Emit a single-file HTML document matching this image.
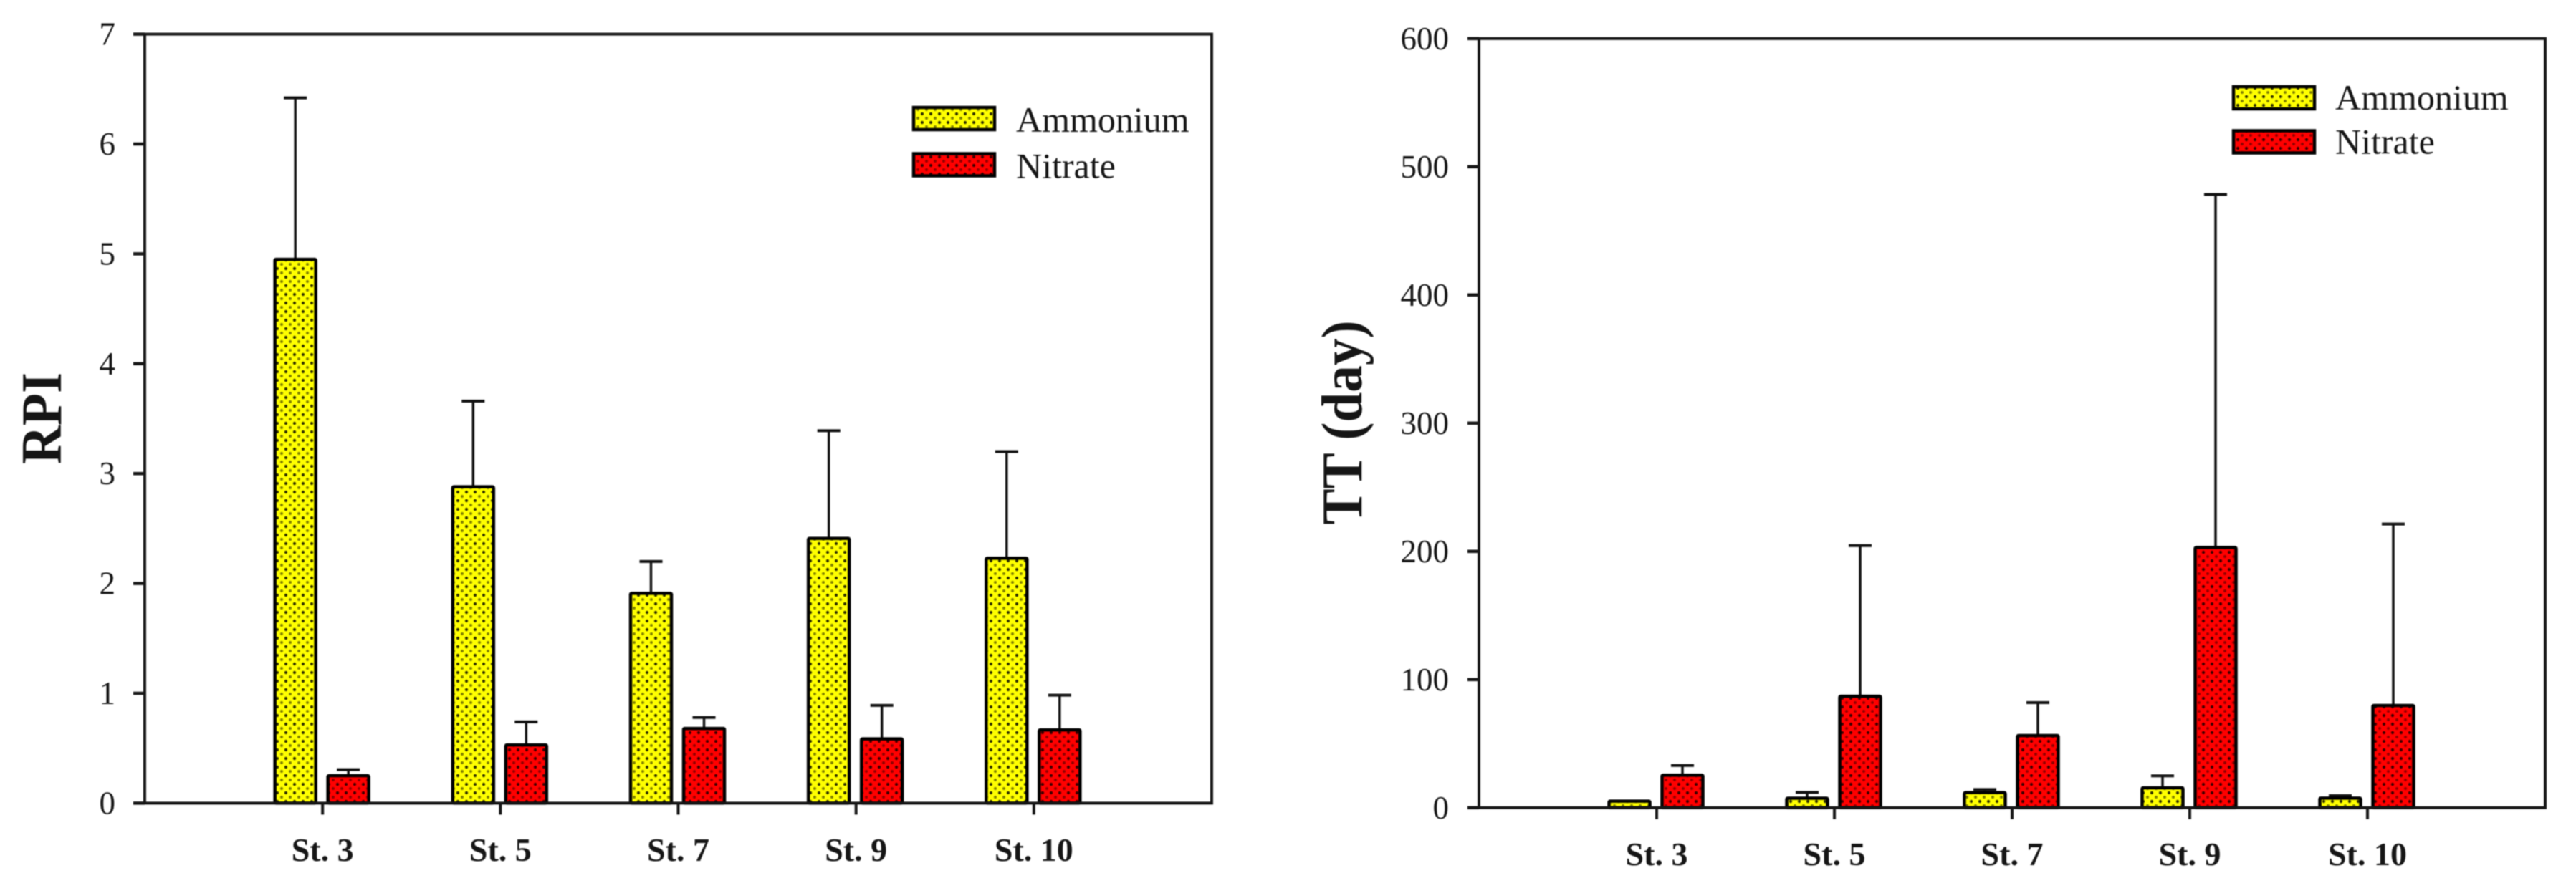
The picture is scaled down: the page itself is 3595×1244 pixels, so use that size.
<!DOCTYPE html>
<html lang="en">
<head>
<meta charset="utf-8">
<title>RPI and TT by station</title>
<style>
html,body{margin:0;padding:0;background:#fff;width:3595px;height:1244px;overflow:hidden}
svg{display:block;filter:blur(0.8px)}
text{font-family:"Liberation Serif",serif;fill:#151515}
</style>
</head>
<body>
<svg id="figure" xmlns="http://www.w3.org/2000/svg" width="3595" height="1244" viewBox="0 0 3595 1244">
  <defs>
    <pattern id="dots-yellow" width="12" height="12" patternUnits="userSpaceOnUse">
      <rect width="12" height="12" fill="#ffff00"/>
      <circle cx="3" cy="3" r="2.1" fill="#2c2c00"/>
      <circle cx="9" cy="9" r="2" fill="#7f7f00"/>
    </pattern>
    <pattern id="dots-red" width="12" height="12" patternUnits="userSpaceOnUse">
      <rect width="12" height="12" fill="#ff0000"/>
      <circle cx="3" cy="3" r="2.1" fill="#3a0000"/>
      <circle cx="9" cy="9" r="2" fill="#900000"/>
    </pattern>
  </defs>
  <rect width="3595" height="1244" fill="#ffffff"/>
</svg>
<script>
const categories = ["St. 3", "St. 5", "St. 7", "St. 9", "St. 10"];
const seriesNames = ["Ammonium", "Nitrate"];

const rpiTicks = [0, 1, 2, 3, 4, 5, 6, 7];
const rpiAmmonium = [4.95, 2.88, 1.91, 2.41, 2.23];
const rpiAmmoniumErr = [1.47, 0.78, 0.29, 0.98, 0.97];
const rpiNitrate = [0.25, 0.53, 0.68, 0.585, 0.667];
const rpiNitrateErr = [0.055, 0.21, 0.10, 0.305, 0.316];

const ttTicks = [0, 100, 200, 300, 400, 500, 600];
const ttAmmonium = [5.1, 7.4, 11.8, 15.5, 7.5];
const ttAmmoniumErr = [0, 4.6, 2.4, 9.4, 1.9];
const ttNitrate = [25.4, 87, 56.3, 203, 79.8];
const ttNitrateErr = [7.6, 117.5, 25.7, 275.4, 141.5];

const NS = "http://www.w3.org/2000/svg";
const svg = document.getElementById("figure");

function make(parent, tag, props, text) {
  const el = document.createElementNS(NS, tag);
  for (const k in props) el.setAttribute(k, props[k]);
  if (text !== undefined) el.textContent = text;
  parent.appendChild(el);
  return el;
}

function drawChart(cfg) {
  const g = make(svg, "g", {});
  
  

  const yMax = cfg.ticks[cfg.ticks.length - 1];
  const yScale = v => cfg.bottom - (v / yMax) * (cfg.bottom - cfg.top);
  const xScale = i => cfg.left + ((i + 1) / (categories.length + 1)) * (cfg.right - cfg.left);

  // bars and error bars
  const groups = [
    {key: "ammonium", vals: cfg.ammonium, errs: cfg.ammoniumErr, off: -38, fill: "url(#dots-yellow)"},
    {key: "nitrate", vals: cfg.nitrate, errs: cfg.nitrateErr, off: 36, fill: "url(#dots-red)"}
  ];
  groups.forEach(s => {
    s.vals.forEach((v, i) => {
      const cx = xScale(i) + s.off;
      const yTop = yScale(v);
      const yErr = yScale(v + s.errs[i]);
      if (s.errs[i] > 0) {
        const stem = make(g, "line", {x1: cx, x2: cx, y1: yTop, y2: yErr, stroke: "#111", "stroke-width": 3.5});
        
        
        const cap = make(g, "line", {x1: cx - 16, x2: cx + 16, y1: yErr, y2: yErr, stroke: "#111", "stroke-width": 4});
        
        
      }
      const bar = make(g, "rect", {x: cx - 28.5, y: yTop, width: 57, height: yScale(0) - yTop, rx: 1.5, fill: s.fill, stroke: "#000", "stroke-width": 4.5, "stroke-linejoin": "round"});
      
      
    });
  });

  // plot frame
  const frame = make(g, "rect", {x: cfg.left, y: cfg.top, width: cfg.right - cfg.left, height: cfg.bottom - cfg.top, fill: "none", stroke: "#161616", "stroke-width": 4});
  
  

  // y ticks
  cfg.ticks.forEach(t => {
    const y = yScale(t);
    const tick = make(g, "line", {x1: cfg.left - 16, x2: cfg.left, y1: y, y2: y, stroke: "#161616", "stroke-width": 4.5});
    
    
    const lab = make(g, "text", {x: cfg.yLabelX, y: y + 15, "text-anchor": "end", "font-size": 45}, String(t));
    
    
  });

  // x ticks
  categories.forEach((c, i) => {
    const x = xScale(i);
    const tick = make(g, "line", {x1: x, x2: x, y1: cfg.bottom, y2: cfg.bottom + 16, stroke: "#161616", "stroke-width": 4});
    
    
    const lab = make(g, "text", {x: x, y: cfg.xLabelY, "text-anchor": "middle", "font-size": 46, "font-weight": "bold"}, c);
    
    
  });

  // y title
  const title = make(g, "text", {transform: "translate(" + cfg.titleX + "," + cfg.titleY + ") rotate(-90)", "text-anchor": "middle", "font-size": 80, "font-weight": "bold", fill: "#000", textLength: cfg.titleLength, lengthAdjust: "spacingAndGlyphs"}, cfg.title);
  
  

  // legend
  const fills = ["url(#dots-yellow)", "url(#dots-red)"];
  seriesNames.forEach((n, i) => {
    const y = cfg.legendY + i * cfg.legendStep;
    const swatch = make(g, "rect", {x: cfg.legendX, y: y, width: 113, height: 31, fill: fills[i], stroke: "#000", "stroke-width": 4.5});
    
    
    const lab = make(g, "text", {x: cfg.legendTextX, y: y + cfg.legendBase, "font-size": 50, fill: "#222"}, n);
    
    
  });
}

drawChart({
  name: "rpi-chart", title: "RPI", titleLength: 128,
  ticks: rpiTicks,
  ammonium: rpiAmmonium, ammoniumErr: rpiAmmoniumErr,
  nitrate: rpiNitrate, nitrateErr: rpiNitrateErr,
  left: 202, right: 1691, top: 47.6, bottom: 1121.4,
  yLabelX: 161, xLabelY: 1202, titleX: 85, titleY: 584,
  legendX: 1275, legendY: 150, legendStep: 64.5, legendTextX: 1418, legendBase: 34
});

drawChart({
  name: "tt-chart", title: "TT (day)", titleLength: 285,
  ticks: ttTicks,
  ammonium: ttAmmonium, ammoniumErr: ttAmmoniumErr,
  nitrate: ttNitrate, nitrateErr: ttNitrateErr,
  left: 2064, right: 3552, top: 53.8, bottom: 1127.8,
  yLabelX: 2022, xLabelY: 1208, titleX: 1900, titleY: 590,
  legendX: 3117, legendY: 121, legendStep: 61.5, legendTextX: 3259, legendBase: 32
});
</script>
</body>
</html>
